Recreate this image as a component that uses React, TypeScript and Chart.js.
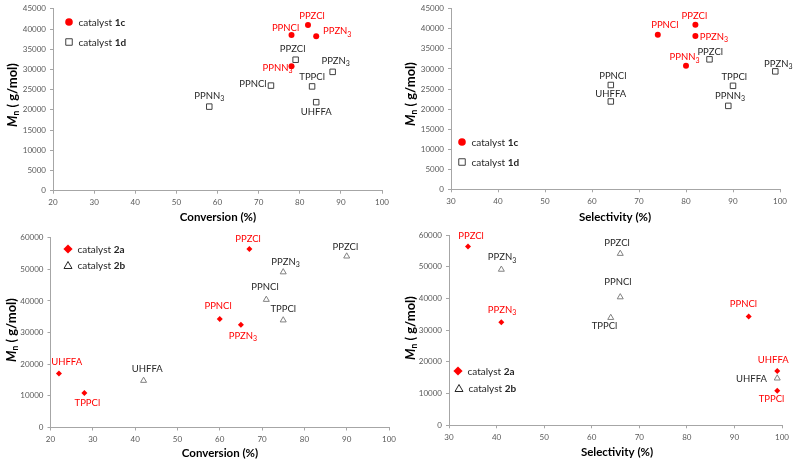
import React, { useEffect, useRef } from "react";
import { Chart, registerables } from "chart.js";

Chart.register(...registerables);

// ---------------- DATA ----------------
const polymers1c = ["PPNCl", "PPZCl", "PPZN3", "PPNN3"];
const conv1c = [78, 82, 84, 78];
const sel1c = [74, 82, 82, 80];
const mn1c = [38500, 41000, 38200, 30800];

const polymers1d = ["PPZCl", "PPZN3", "PPNCl", "TPPCl", "UHFFA", "PPNN3"];
const conv1d = [79, 88, 73, 83, 84, 58];
const sel1d = [85, 99, 64, 90, 64, 89];
const mn1d = [32400, 29400, 26000, 25800, 21900, 20800];

const polymers2a = ["PPZCl", "PPNCl", "PPZN3", "UHFFA", "TPPCl"];
const conv2a = [67, 60, 65, 22, 28];
const sel2a = [34, 93, 41, 99, 99];
const mn2a = [56400, 34300, 32500, 17100, 10900];

const polymers2b = ["PPZCl", "PPZN3", "PPNCl", "TPPCl", "UHFFA"];
const conv2b = [90, 75, 71, 75, 42];
const sel2b = [66, 41, 66, 64, 99];
const mn2b = [54400, 49400, 40700, 34200, 15100];

const xTitleConv = "Conversion (%)";
const xTitleSel = "Selectivity (%)";

// label placement offsets (px, relative to point) – layout only
const offTL1c = [[-6, -7], [4, -9.5], [21, -5], [-14, 1.5]];
const offTL1d = [[-3, -11], [3, -11], [-18, -1.5], [0, -9], [0, 10], [0, -11]];
const offTR1c = [[7, -9.5], [-1, -8.5], [18.5, 1], [-1.5, -8.5]];
const offTR1d = [[0.7, -7.7], [3, -7.7], [2, -8.7], [1.3, -8.7], [0, -8], [1.7, -10]];
const offBL2a = [[-1.3, -10], [-1.7, -13.3], [2, 11.3], [7.7, -11.7], [3, 9.7]];
const offBL2b = [[-1.3, -8.7], [2.3, -9.3], [-1.3, -12], [0, -10], [3.7, -10.3]];
const offBR2a = [[3, -10], [-5.3, -13], [0.7, -12], [-4, -11], [-5.7, 8.7]];
const offBR2b = [[-3.3, -10.3], [0.7, -11.3], [-2.3, -14], [-6.3, 9], [-25.7, 2]];

// ---------------- STYLE ----------------
const W = 796;
const H = 463;
const FONT = "Lato, 'Open Sans', sans-serif";
const RED = "#FF0000";
const DARK = "#262626";
const TICK = "#595959";
const AXIS = "#A6A6A6";
const Y_W = 40;
const X_H = 30;

type Style = "circle" | "square" | "diamond" | "triangle";
type Series = { names: string[]; xs: number[]; ys: number[]; offs: number[][]; style: Style; red: boolean };
type LegendItem = { x: number; y: number; style: Style; text: string; bold: string };
type Panel = {
  area: { l: number; t: number; r: number; b: number };
  xMin: number; xMax: number; yMax: number; yStep: number;
  xTitle: string; xTitleAt: [number, number]; yTitleAt: [number, number];
  series: Series[]; legend: LegendItem[];
};

const panels: Panel[] = [
  {
    area: { l: 53, t: 7.5, r: 382, b: 190.7 },
    xMin: 20, xMax: 100, yMax: 45000, yStep: 5000,
    xTitle: xTitleConv, xTitleAt: [218, 217], yTitleAt: [13, 95],
    series: [
      { names: polymers1c, xs: conv1c, ys: mn1c, offs: offTL1c, style: "circle", red: true },
      { names: polymers1d, xs: conv1d, ys: mn1d, offs: offTL1d, style: "square", red: false },
    ],
    legend: [
      { x: 69, y: 22, style: "circle", text: "catalyst ", bold: "1c" },
      { x: 69, y: 42, style: "square", text: "catalyst ", bold: "1d" },
    ],
  },
  {
    area: { l: 451, t: 7.3, r: 780, b: 189.3 },
    xMin: 30, xMax: 100, yMax: 45000, yStep: 5000,
    xTitle: xTitleSel, xTitleAt: [615, 217], yTitleAt: [411, 94],
    series: [
      { names: polymers1c, xs: sel1c, ys: mn1c, offs: offTR1c, style: "circle", red: true },
      { names: polymers1d, xs: sel1d, ys: mn1d, offs: offTR1d, style: "square", red: false },
    ],
    legend: [
      { x: 462, y: 142, style: "circle", text: "catalyst ", bold: "1c" },
      { x: 462, y: 162, style: "square", text: "catalyst ", bold: "1d" },
    ],
  },
  {
    area: { l: 50.5, t: 237.7, r: 389, b: 427.5 },
    xMin: 20, xMax: 100, yMax: 60000, yStep: 10000,
    xTitle: xTitleConv, xTitleAt: [220, 453], yTitleAt: [12, 330],
    series: [
      { names: polymers2a, xs: conv2a, ys: mn2a, offs: offBL2a, style: "diamond", red: true },
      { names: polymers2b, xs: conv2b, ys: mn2b, offs: offBL2b, style: "triangle", red: false },
    ],
    legend: [
      { x: 68, y: 249, style: "diamond", text: "catalyst ", bold: "2a" },
      { x: 68, y: 265, style: "triangle", text: "catalyst ", bold: "2b" },
    ],
  },
  {
    area: { l: 449, t: 235, r: 782, b: 425.3 },
    xMin: 30, xMax: 100, yMax: 60000, yStep: 10000,
    xTitle: xTitleSel, xTitleAt: [617, 452], yTitleAt: [410.5, 328],
    series: [
      { names: polymers2a, xs: sel2a, ys: mn2a, offs: offBR2a, style: "diamond", red: true },
      { names: polymers2b, xs: sel2b, ys: mn2b, offs: offBR2b, style: "triangle", red: false },
    ],
    legend: [
      { x: 458, y: 371, style: "diamond", text: "catalyst ", bold: "2a" },
      { x: 459, y: 388, style: "triangle", text: "catalyst ", bold: "2b" },
    ],
  },
];

// ---------------- DRAW HELPERS ----------------
function drawMarker(ctx: CanvasRenderingContext2D, style: Style, x: number, y: number, big: boolean) {
  ctx.save();
  ctx.beginPath();
  if (style === "circle") {
    const r = big ? 3.8 : 3;
    ctx.arc(x, y, r, 0, Math.PI * 2);
    ctx.fillStyle = RED;
    ctx.fill();
  } else if (style === "square") {
    const s = big ? 6.5 : 5.5;
    ctx.rect(x - s / 2, y - s / 2, s, s);
    ctx.fillStyle = "#fff";
    ctx.fill();
    ctx.strokeStyle = "#404040";
    ctx.lineWidth = 1;
    ctx.stroke();
  } else if (style === "diamond") {
    const r = big ? 4.6 : 3;
    ctx.moveTo(x, y - r);
    ctx.lineTo(x + r, y);
    ctx.lineTo(x, y + r);
    ctx.lineTo(x - r, y);
    ctx.closePath();
    ctx.fillStyle = RED;
    ctx.fill();
  } else {
    const w = big ? 8 : 6;
    const h = big ? 7 : 5.2;
    ctx.moveTo(x, y - h / 2);
    ctx.lineTo(x + w / 2, y + h / 2);
    ctx.lineTo(x - w / 2, y + h / 2);
    ctx.closePath();
    ctx.fillStyle = "#fff";
    ctx.fill();
    ctx.strokeStyle = big ? "#262626" : "#808080";
    ctx.lineWidth = 1;
    ctx.stroke();
  }
  ctx.restore();
}

function drawPointLabel(ctx: CanvasRenderingContext2D, text: string, cx: number, cy: number, color: string) {
  const m = /^(.*N)(3)$/.exec(text);
  const main = m ? m[1] : text;
  const sub = m ? m[2] : "";
  const mainFont = `9.5px ${FONT}`;
  const subFont = `7px ${FONT}`;
  ctx.font = mainFont;
  const wm = ctx.measureText(main).width;
  ctx.font = subFont;
  const ws = sub ? ctx.measureText(sub).width : 0;
  const x0 = cx - (wm + ws) / 2;
  ctx.fillStyle = color;
  ctx.textAlign = "left";
  ctx.textBaseline = "middle";
  ctx.font = mainFont;
  ctx.fillText(main, x0, cy);
  if (sub) {
    ctx.font = subFont;
    ctx.fillText(sub, x0 + wm, cy + 3);
  }
}

function makePlugin(p: Panel) {
  return {
    id: "annot",
    afterDatasetsDraw(chart: any) {
      const ctx: CanvasRenderingContext2D = chart.ctx;
      const xs = chart.scales.x;
      const ys = chart.scales.y;
      ctx.save();
      p.series.forEach((s) => {
        s.xs.forEach((xv, i) => {
          const px = xs.getPixelForValue(xv);
          const py = ys.getPixelForValue(s.ys[i]);
          drawMarker(ctx, s.style, px, py, false);
        });
      });
      p.series.forEach((s) => {
        s.xs.forEach((xv, i) => {
          const px = xs.getPixelForValue(xv);
          const py = ys.getPixelForValue(s.ys[i]);
          const o = s.offs[i];
          drawPointLabel(ctx, s.names[i], px + o[0], py + o[1], s.red ? RED : DARK);
        });
      });
      p.legend.forEach((l) => {
        drawMarker(ctx, l.style, l.x, l.y, true);
        ctx.textAlign = "left";
        ctx.textBaseline = "middle";
        ctx.fillStyle = DARK;
        ctx.font = `10px ${FONT}`;
        const tx = l.x + 9.5;
        ctx.fillText(l.text, tx, l.y + 1);
        const w = ctx.measureText(l.text).width;
        ctx.font = `bold 10px ${FONT}`;
        ctx.fillText(l.bold, tx + w, l.y + 1);
      });
      ctx.font = `bold 11.5px ${FONT}`;
      ctx.fillStyle = "#000";
      ctx.textAlign = "center";
      ctx.textBaseline = "middle";
      ctx.fillText(p.xTitle, p.xTitleAt[0], p.xTitleAt[1]);
      ctx.save();
      ctx.translate(p.yTitleAt[0], p.yTitleAt[1]);
      ctx.rotate(-Math.PI / 2);
      const fM = `italic bold 13px ${FONT}`;
      const fN = `bold 8.5px ${FONT}`;
      const fR = `bold 13px ${FONT}`;
      const rest = " ( g/mol)";
      ctx.font = fM;
      const wM = ctx.measureText("M").width;
      ctx.font = fN;
      const wN = ctx.measureText("n").width;
      ctx.font = fR;
      const wR = ctx.measureText(rest).width;
      let x0 = -(wM + wN + wR) / 2;
      ctx.textAlign = "left";
      ctx.textBaseline = "middle";
      ctx.fillStyle = "#000";
      ctx.font = fM;
      ctx.fillText("M", x0, 0);
      x0 += wM;
      ctx.font = fN;
      ctx.fillText("n", x0, 3.5);
      x0 += wN;
      ctx.font = fR;
      ctx.fillText(rest, x0, 0);
      ctx.restore();
      ctx.restore();
    },
  };
}

function makeConfig(p: Panel): any {
  const tickFont = { family: FONT, size: 8 };
  const plain = (v: any) => String(v);
  return {
    type: "scatter",
    data: {
      datasets: p.series.map((s) => ({
        label: s.style,
        data: s.xs.map((x, i) => ({ x, y: s.ys[i] })),
        pointRadius: 0,
        pointHoverRadius: 0,
        showLine: false,
      })),
    },
    options: {
      responsive: false,
      maintainAspectRatio: false,
      animation: false,
      devicePixelRatio: 1,
      events: [],
      layout: {
        padding: {
          left: p.area.l - Y_W,
          top: p.area.t,
          right: W - p.area.r,
          bottom: H - p.area.b - X_H,
        },
      },
      plugins: { legend: { display: false }, tooltip: { enabled: false }, title: { display: false } },
      scales: {
        x: {
          type: "linear",
          min: p.xMin,
          max: p.xMax,
          ticks: { stepSize: 10, font: tickFont, color: TICK, padding: 4, maxRotation: 0, autoSkip: false, callback: plain },
          grid: { display: true, drawOnChartArea: false, drawTicks: true, tickLength: 3, color: AXIS },
          border: { display: true, color: AXIS, width: 1 },
          afterFit: (s: any) => {
            s.height = X_H;
          },
        },
        y: {
          type: "linear",
          min: 0,
          max: p.yMax,
          ticks: { stepSize: p.yStep, font: tickFont, color: TICK, padding: 4, autoSkip: false, callback: plain },
          grid: { display: true, drawOnChartArea: false, drawTicks: true, tickLength: 3, color: AXIS },
          border: { display: true, color: AXIS, width: 1 },
          afterFit: (s: any) => {
            s.width = Y_W;
          },
        },
      },
    },
    plugins: [makePlugin(p)],
  };
}

function PanelChart({ p }: { p: Panel }) {
  const ref = useRef<HTMLCanvasElement | null>(null);
  useEffect(() => {
    if (!ref.current) return;
    const chart = new Chart(ref.current, makeConfig(p));
    return () => chart.destroy();
  }, [p]);
  return (
    <canvas
      ref={ref}
      width={W}
      height={H}
      style={{ position: "absolute", left: 0, top: 0, width: W, height: H }}
    />
  );
}

export default function App() {
  return (
    <div style={{ position: "absolute", left: 0, top: 0, width: W, height: H, background: "#fff", overflow: "hidden" }}>
      {panels.map((p, i) => (
        <PanelChart key={i} p={p} />
      ))}
    </div>
  );
}
